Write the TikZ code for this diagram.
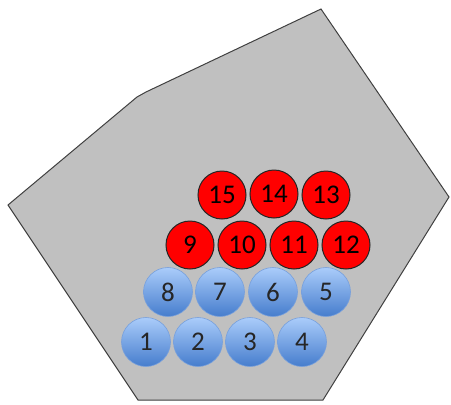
\documentclass[tikz,border=0pt]{standalone}
\usepackage{fontspec}
\setmainfont{Carlito}
\begin{document}
\begin{tikzpicture}[x=1pt,y=-1pt,
  bluedisc/.style={circle,minimum size=49pt,inner sep=0pt,top color={rgb,255:red,170;green,204;blue,250},bottom color={rgb,255:red,70;green,125;blue,205},draw={rgb,255:red,120;green,160;blue,220},line width=0.6pt,font=\fontsize{27}{30}\selectfont,text=black!85},
  reddisc/.style={circle,minimum size=48pt,inner sep=0pt,fill=red,draw=black!85,line width=1pt,font=\fontsize{27}{30}\selectfont,text=black}]
\useasboundingbox (0,0) rectangle (451,405);
\draw[fill={rgb,255:red,192;green,192;blue,192},draw=black!75,line width=1pt]
  (8,205) -- (137,97) -- (146,92) -- (321,9) -- (449,197) -- (323,400) -- (138,400) -- cycle;
\node[bluedisc] (n1) at (146,342) {1};
\node[bluedisc] (n2) at (198,342) {2};
\node[bluedisc] (n3) at (250,342) {3};
\node[bluedisc] (n4) at (302,342) {4};
\node[bluedisc] (n8) at (168,292) {8};
\node[bluedisc] (n7) at (220,292) {7};
\node[bluedisc] (n6) at (273,292) {6};
\node[bluedisc] (n5) at (326,292) {5};
\node[reddisc] (n9) at (190,245) {9};
\node[reddisc] (n10) at (242,245) {10};
\node[reddisc] (n11) at (294,245) {11};
\node[reddisc] (n12) at (346,245) {12};
\node[reddisc] (n15) at (222,195) {15};
\node[reddisc] (n14) at (274,194) {14};
\node[reddisc] (n13) at (326,195) {13};
\end{tikzpicture}
\end{document}
